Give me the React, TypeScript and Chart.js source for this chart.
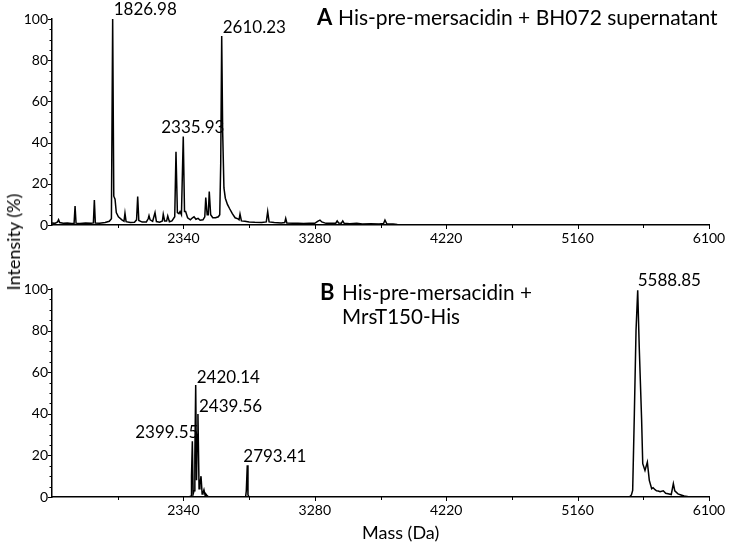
import React, { useEffect, useRef } from 'react';
import { Chart, registerables } from 'chart.js';

Chart.register(...registerables);

const FONT = 'Lato, "Open Sans", "DejaVu Sans", sans-serif';

// ---------- Panel A: His-pre-mersacidin + BH072 supernatant ----------
const massA = [
  1400, 1420, 1440, 1447, 1455, 1480, 1510, 1540, 1558, 1565, 1572, 1600, 1640, 1680, 1696, 1703,
  1710, 1740, 1780, 1810, 1825, 1834, 1842, 1851, 1860, 1875, 1900, 1915, 1922, 1930, 1960, 1990,
  2005, 2013, 2021, 2045, 2075, 2088, 2094, 2102, 2120, 2137, 2147, 2170, 2190, 2196, 2206, 2220,
  2228, 2240, 2258, 2278, 2287, 2297, 2308, 2316, 2326, 2339, 2348, 2356, 2370, 2390, 2405, 2416,
  2430, 2445, 2460, 2480, 2493, 2500, 2510, 2518, 2525, 2535, 2550, 2570, 2590, 2600, 2607, 2614,
  2621, 2630, 2640, 2655, 2670, 2690, 2710, 2730, 2738, 2745, 2755, 2780, 2810, 2850, 2900, 2933,
  2943, 2953, 2990, 3040, 3065, 3072, 3080, 3120, 3160, 3200, 3240, 3280, 3300, 3317, 3330, 3360,
  3400, 3430, 3440, 3450, 3470, 3480, 3490, 3530, 3580, 3620, 3680, 3740, 3772, 3782, 3795, 3840,
  3870, 3900, 6100,
];
const intensityA = [
  1.0, 0.8, 1.5, 2.6, 1.2, 0.9, 1.0, 0.7, 0.8, 9.2, 0.9, 0.7, 1.0, 0.8, 1.0, 12.1,
  1.0, 0.9, 1.2, 1.8, 3.0, 100, 14, 12.5, 6.0, 4.0, 2.5, 1.8, 5.7, 1.6, 1.2, 1.3,
  2.5, 13.8, 2.2, 1.4, 1.5, 3.0, 4.5, 2.5, 1.8, 6.0, 1.7, 1.4, 2.0, 5.2, 2.0, 2.0,
  4.4, 1.6, 2.0, 4.0, 35.6, 6.0, 5.5, 6.5, 5.0, 42.9, 6.5, 6.5, 3.5, 2.5, 3.5, 4.0,
  2.8, 3.2, 2.3, 2.5, 4.0, 13.3, 5.0, 5.0, 16.2, 5.0, 3.5, 3.5, 4.0, 5.0, 30, 91.7,
  45, 18, 13, 10, 8, 5.5, 3.5, 3.0, 2.5, 5.3, 2.0, 1.8, 1.5, 1.3, 1.2, 1.5,
  6.5, 1.5, 1.2, 1.0, 1.2, 3.2, 1.0, 0.8, 0.9, 0.7, 0.9, 0.8, 1.8, 2.4, 1.5, 0.8,
  0.8, 0.9, 2.0, 1.0, 0.9, 2.0, 0.8, 0.6, 0.8, 0.5, 0.6, 0.5, 0.7, 2.4, 0.6, 0.5,
  0.2, 0, 0,
];
const peakLabelsA = ['1826.98', '2335.93', '2610.23'];
const peakMassA = [1834, 2339, 2614];
const peakIntA = [100, 42.9, 91.7];

// ---------- Panel B: His-pre-mersacidin + MrsT150-His ----------
const massB = [
  1400, 2380, 2395, 2398, 2404, 2410, 2416, 2422, 2428, 2434, 2439, 2444, 2452, 2458, 2466, 2474,
  2480, 2487, 2495, 2500, 2506, 2520, 2785, 2790, 2797, 2802, 2810, 5530, 5545, 5554, 5566, 5578,
  5590, 5601, 5618, 5626, 5642, 5659, 5673, 5690, 5700, 5714, 5725, 5737, 5750, 5773, 5790, 5807,
  5830, 5845, 5855, 5878, 5900, 5922, 5964, 6100,
];
const intensityB = [
  0, 0, 0.5, 10, 26.8, 1.5, 3.0, 20, 53.9, 8.0, 30, 39.9, 4.0, 6.0, 10, 1.5,
  2.0, 3.5, 0.8, 1.5, 1.0, 0, 0, 3.0, 15.3, 1.0, 0, 0, 1.0, 3.2, 40, 80,
  99.4, 72, 37, 16, 12.8, 16.8, 8.0, 4.0, 4.5, 3.5, 3.0, 2.9, 2.5, 3.0, 1.8, 1.6,
  1.2, 6.4, 3.0, 1.5, 1.0, 0.5, 0, 0,
];
const peakLabelsB = ['2399.55', '2420.14', '2439.56', '2793.41', '5588.85'];
const peakMassB = [2404, 2428, 2444, 2797, 5590];
const peakIntB = [26.8, 53.9, 39.9, 15.3, 99.4];

// ---------- Axes ----------
const xMin = 1400;
const xMax = 6100;
const xMajorTicks = [2340, 3280, 4220, 5160, 6100];
const xMinorTicks = [1870, 2810, 3750, 4690, 5630];
const yMajorTicks = [0, 20, 40, 60, 80, 100];
const yMinorTicks = [5, 10, 15, 25, 30, 35, 45, 50, 55, 65, 70, 75, 85, 90, 95];

const titleA = ['A', 'His-pre-mersacidin + BH072 supernatant'];
const titleB = ['B', 'His-pre-mersacidin +', 'MrsT150-His'];
const xAxisTitle = 'Mass (Da)';
const yAxisTitle = 'Intensity (%)';

// label layout (style only): alignment and pixel offsets per label
const labelLayoutA = [
  { align: 'left', dx: 1, dy: -4 },
  { align: 'left', dx: -22, dy: -4 },
  { align: 'left', dx: 1, dy: -3 },
];
const labelLayoutB = [
  { align: 'right', dx: 6, dy: -3 },
  { align: 'left', dx: 1, dy: -2 },
  { align: 'left', dx: 1, dy: -2 },
  { align: 'left', dx: -4, dy: -3 },
  { align: 'left', dx: 0, dy: -4 },
];

const W = 731;
const H = 273;

const tickMarksPlugin = {
  id: 'tickMarks',
  afterDraw(chart: any) {
    const { ctx, chartArea } = chart;
    const x = chart.scales.x;
    const y = chart.scales.y;
    ctx.save();
    ctx.strokeStyle = '#000';
    ctx.lineWidth = 1;
    ctx.beginPath();
    yMajorTicks.forEach((v) => {
      const p = Math.round(y.getPixelForValue(v)) + 0.5;
      ctx.moveTo(chartArea.left - 4, p);
      ctx.lineTo(chartArea.left, p);
    });
    yMinorTicks.forEach((v) => {
      const p = Math.round(y.getPixelForValue(v)) + 0.5;
      ctx.moveTo(chartArea.left - 2.5, p);
      ctx.lineTo(chartArea.left, p);
    });
    xMajorTicks.forEach((v) => {
      const p = Math.round(x.getPixelForValue(v)) + 0.5;
      ctx.moveTo(p, chartArea.bottom);
      ctx.lineTo(p, chartArea.bottom + 4);
    });
    xMinorTicks.forEach((v) => {
      const p = Math.round(x.getPixelForValue(v)) + 0.5;
      ctx.moveTo(p, chartArea.bottom);
      ctx.lineTo(p, chartArea.bottom + 3);
    });
    ctx.stroke();
    ctx.restore();
  },
};

function makeTextPlugin(
  labels: string[],
  masses: number[],
  ints: number[],
  layout: { align: string; dx: number; dy: number }[],
  drawTitle: (ctx: CanvasRenderingContext2D) => void
) {
  return {
    id: 'peakText',
    afterDraw(chart: any) {
      const { ctx } = chart;
      const x = chart.scales.x;
      const y = chart.scales.y;
      ctx.save();
      ctx.fillStyle = '#000';
      ctx.font = `17px ${FONT}`;
      ctx.textBaseline = 'alphabetic';
      labels.forEach((t, i) => {
        const lay = layout[i];
        ctx.textAlign = lay.align as CanvasTextAlign;
        ctx.fillText(t, x.getPixelForValue(masses[i]) + lay.dx, y.getPixelForValue(ints[i]) + lay.dy);
      });
      drawTitle(ctx);
      ctx.restore();
    },
  };
}

function makeConfig(mass: number[], inten: number[], topPad: number, xHeight: number, plugin: any) {
  return {
    type: 'line' as const,
    data: {
      datasets: [
        {
          data: mass.map((m, i) => ({ x: m, y: inten[i] })),
          borderColor: '#000',
          borderWidth: 1.5,
          pointRadius: 0,
          tension: 0,
          fill: false,
        },
      ],
    },
    options: {
      animation: false as const,
      responsive: false,
      maintainAspectRatio: false,
      layout: { padding: { top: topPad, right: 22, left: 0, bottom: 0 } },
      plugins: { legend: { display: false }, tooltip: { enabled: false }, title: { display: false } },
      scales: {
        x: {
          type: 'linear' as const,
          min: xMin,
          max: xMax,
          afterBuildTicks: (s: any) => {
            s.ticks = xMajorTicks.map((v) => ({ value: v }));
          },
          afterFit: (s: any) => {
            s.height = xHeight;
          },
          ticks: {
            font: { family: FONT, size: 14 },
            color: '#000',
            padding: 5,
            maxRotation: 0,
            autoSkip: false,
            callback: (v: any) => String(v),
          },
          grid: { display: false, drawTicks: false },
          border: { display: true, color: '#000', width: 1.5 },
        },
        y: {
          type: 'linear' as const,
          min: 0,
          max: 100,
          afterBuildTicks: (s: any) => {
            s.ticks = yMajorTicks.map((v) => ({ value: v }));
          },
          afterFit: (s: any) => {
            s.width = 52;
          },
          ticks: {
            font: { family: FONT, size: 14 },
            color: '#000',
            padding: 4,
            autoSkip: false,
            callback: (v: any) => String(v),
          },
          grid: { display: false, drawTicks: false },
          border: { display: true, color: '#000', width: 1.5 },
        },
      },
    },
    plugins: [tickMarksPlugin, plugin],
  };
}

export default function App() {
  const refA = useRef<HTMLCanvasElement>(null);
  const refB = useRef<HTMLCanvasElement>(null);

  useEffect(() => {
    const pluginA = makeTextPlugin(peakLabelsA, peakMassA, peakIntA, labelLayoutA, (ctx) => {
      ctx.textAlign = 'left';
      ctx.font = `bold 22px ${FONT}`;
      ctx.fillText(titleA[0], 317, 25);
      ctx.font = `21px ${FONT}`;
      ctx.fillText(titleA[1], 338, 25, 380);
    });
    const pluginB = makeTextPlugin(peakLabelsB, peakMassB, peakIntB, labelLayoutB, (ctx) => {
      ctx.textAlign = 'left';
      ctx.font = `bold 22px ${FONT}`;
      ctx.fillText(titleB[0], 320, 27);
      ctx.font = `21px ${FONT}`;
      ctx.fillText(titleB[1], 342, 27, 190);
      ctx.fillText(titleB[2], 342, 51, 118);
      ctx.font = `18px ${FONT}`;
      ctx.fillText(xAxisTitle, 362, 266);
    });
    const a = new Chart(refA.current as HTMLCanvasElement, makeConfig(massA, intensityA, 19, H - 225, pluginA) as any);
    const b = new Chart(refB.current as HTMLCanvasElement, makeConfig(massB, intensityB, 16, H - 224, pluginB) as any);
    return () => {
      a.destroy();
      b.destroy();
    };
  }, []);

  return (
    <div style={{ position: 'absolute', left: 0, top: 0, width: W, height: 546, background: '#fff', overflow: 'hidden' }}>
      <canvas ref={refA} width={W} height={H} style={{ position: 'absolute', left: 0, top: 0, width: W, height: H }} />
      <canvas ref={refB} width={W} height={H} style={{ position: 'absolute', left: 0, top: H, width: W, height: H }} />
      <div
        style={{
          position: 'absolute',
          left: 13,
          top: 242,
          transform: 'translate(-50%, -50%) rotate(-90deg)',
          fontFamily: FONT,
          fontSize: 18,
          lineHeight: '18px',
          whiteSpace: 'nowrap',
          color: '#000',
        }}
      >
        {yAxisTitle}
      </div>
    </div>
  );
}
